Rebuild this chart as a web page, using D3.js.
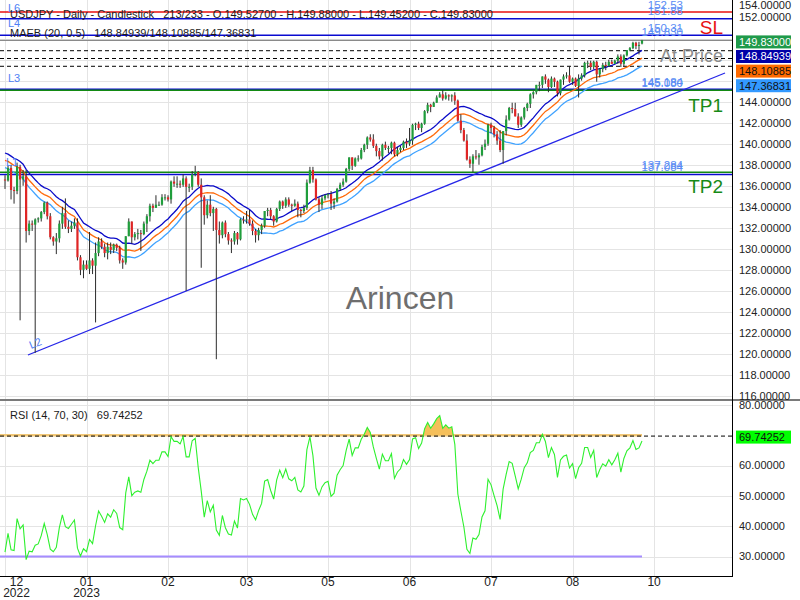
<!DOCTYPE html>
<html><head><meta charset="utf-8">
<script src="https://cdn.jsdelivr.net/npm/d3@7/dist/d3.min.js"></script>
<style>
body{margin:0;background:#fff;}
svg{display:block;font-family:"Liberation Sans",Arial,sans-serif;}
text{white-space:pre;}
</style>
</head><body>
<svg id="c" width="800" height="600"></svg>
<script>
// ---------------- DATA ----------------
// daily candles, 9 Dec 2022 .. 2 Oct 2023 (index = candle number)
const open = [
136.6,136.5,137.7,135.6,135.5,137.8,136.6,136.9,131.7,132.4,132.3,132.8,132.9,133.5,134.4,133.1,
131.1,130.7,131.0,132.4,133.4,132.1,131.9,132.2,132.5,129.2,128.0,128.5,128.1,128.9,128.4,129.6,130.7,130.2,129.6,130.2,129.9,130.4,
130.1,128.9,128.7,131.2,132.6,131.1,131.4,131.5,131.4,132.4,133.1,134.1,133.9,134.2,134.2,134.9,134.9,134.7,136.4,136.2,
136.2,136.1,136.7,135.9,135.9,137.1,137.3,136.1,134.9,133.2,134.2,133.4,133.8,131.8,131.3,132.5,131.4,130.8,130.7,131.5,130.9,132.8,132.7,
132.8,132.4,131.7,131.3,131.8,132.2,133.6,133.7,133.1,132.6,133.8,134.5,134.1,134.7,134.2,134.1,134.3,133.7,133.6,133.9,
136.3,137.5,136.6,134.7,134.2,134.8,135.1,135.2,134.3,134.5,135.7,136.1,136.4,137.6,138.7,137.9,138.6,138.6,139.4,139.9,140.6,140.4,139.8,
139.3,138.8,139.9,139.6,139.6,140.1,139.0,139.4,139.6,140.2,140.0,140.3,141.8,141.9,141.5,141.9,143.1,143.7,143.5,143.9,144.4,144.7,
144.3,144.6,144.5,144.6,144.1,142.2,141.3,140.3,138.5,138.1,138.8,138.7,138.9,139.7,140.0,141.8,141.5,140.9,140.3,139.4,141.2,
142.3,143.4,143.3,142.6,141.8,142.5,143.4,143.8,144.7,144.9,145.6,145.6,146.4,146.1,145.4,146.2,145.9,144.8,146.1,146.4,146.5,145.9,146.2,
145.5,146.2,146.5,147.7,147.7,147.3,147.8,146.6,147.1,147.5,147.4,147.8,147.6,147.9,148.3,147.6,148.4,148.9,149.1,149.6,149.3,
149.527];
const high = [
137.0,137.9,138.0,135.9,138.2,138.0,137.5,137.5,132.7,132.7,132.9,133.0,133.6,134.5,134.5,133.4,
131.2,131.5,132.7,134.0,134.8,132.7,132.6,132.9,132.9,129.4,128.9,128.9,131.6,129.1,130.6,131.1,131.0,130.5,130.6,130.6,130.5,130.5,
130.3,129.1,131.2,132.9,132.6,131.6,131.9,131.8,132.6,133.3,134.3,134.3,135.1,134.5,135.2,135.2,135.1,136.5,136.9,136.9,
136.5,137.1,136.9,136.2,137.4,137.9,137.4,136.7,135.1,134.6,135.1,134.0,133.9,132.6,132.6,132.7,131.6,131.0,131.7,131.6,132.9,133.1,133.6,
133.7,132.7,131.9,132.0,132.4,133.6,133.9,133.9,133.2,133.9,134.6,134.6,134.9,134.9,134.3,134.7,134.5,133.8,134.2,136.6,
137.8,137.8,136.7,134.9,135.1,135.2,135.3,135.5,134.8,135.8,136.3,136.7,137.7,138.7,138.7,138.7,138.9,139.6,140.0,140.7,140.9,140.9,140.0,
139.6,140.0,140.2,139.8,140.2,140.2,139.7,139.8,140.3,140.5,141.5,141.9,142.0,142.1,142.0,143.2,143.9,143.8,144.0,144.6,144.9,145.1,
144.9,144.7,144.7,144.9,144.2,142.8,141.5,140.9,138.8,139.0,139.4,139.1,139.9,140.4,141.9,142.0,141.7,141.2,141.3,141.2,142.7,
143.5,143.9,143.9,142.9,142.6,143.5,143.9,144.8,145.0,145.6,145.9,146.4,146.6,146.2,146.4,146.3,146.0,146.1,146.6,146.8,147.4,146.3,146.3,
146.6,146.7,147.8,147.9,147.9,147.9,147.9,147.2,147.7,147.8,148.0,148.0,148.0,148.5,148.5,148.5,148.9,149.2,149.7,149.7,149.7,
149.88];
const low = [
135.7,136.4,134.7,134.3,135.2,123.2,136.0,130.6,131.3,131.7,120.1,132.5,132.6,133.3,132.8,130.9,
130.3,129.5,130.6,131.9,131.9,131.5,131.6,131.9,128.9,127.5,127.2,128.0,127.6,127.6,123.0,129.3,130.0,129.2,129.0,129.5,129.6,129.8,
128.6,128.1,128.5,131.2,130.5,130.8,130.9,129.8,131.3,131.6,132.6,133.5,133.9,134.1,134.1,134.6,134.5,134.3,135.9,135.8,
135.8,135.9,126.0,135.4,135.6,136.9,135.9,128.2,132.3,132.9,133.1,131.7,119.5,130.5,131.0,131.1,130.4,129.6,130.4,130.4,130.8,132.4,132.4,
132.2,131.3,130.6,130.8,131.4,132.0,133.1,132.8,132.2,132.5,133.6,133.8,133.9,134.0,133.6,134.0,133.0,133.0,133.4,133.7,
136.2,136.3,134.6,133.5,133.8,134.6,134.8,133.7,133.8,134.4,135.5,135.9,136.3,137.4,137.5,137.8,138.3,138.5,139.2,139.5,140.2,139.6,138.8,
138.5,138.4,139.4,139.1,139.0,138.8,138.8,139.2,139.4,139.6,139.8,139.9,141.3,141.3,141.1,141.8,142.9,143.0,143.5,143.9,144.4,144.1,
144.2,144.1,144.0,143.7,142.1,141.0,140.2,138.4,137.7,137.3,138.5,138.0,138.8,139.4,139.8,141.0,140.6,139.9,139.2,138.1,140.8,
142.2,142.9,142.6,141.5,141.6,142.3,143.1,143.4,144.3,144.7,145.0,145.3,145.7,144.9,145.3,145.4,144.5,144.6,145.6,146.2,145.8,145.6,145.4,
144.4,146.0,146.3,147.2,147.0,147.1,145.9,146.3,146.8,147.0,147.3,147.6,147.6,147.6,147.3,147.4,148.3,148.8,149.0,149.0,148.5,
149.452];
const close = [
136.5,137.7,135.6,135.5,137.8,136.6,136.9,131.7,132.4,132.3,132.8,132.9,133.5,134.4,133.1,131.1,
130.7,131.0,132.4,133.4,132.1,131.9,132.2,132.5,129.2,128.0,128.5,128.1,128.9,128.4,129.6,130.7,130.2,129.6,130.2,129.9,130.4,130.1,
128.9,128.7,131.2,132.6,131.1,131.4,131.5,131.4,132.4,133.1,134.1,133.9,134.2,134.2,134.9,134.9,134.7,136.4,136.2,136.2,
136.1,136.7,135.9,135.9,137.1,137.3,136.1,134.9,133.2,134.2,133.4,133.8,131.8,131.3,132.5,131.4,130.8,130.7,131.5,130.9,132.8,132.7,132.8,
132.4,131.7,131.3,131.8,132.2,133.6,133.7,133.1,132.6,133.8,134.5,134.1,134.7,134.2,134.1,134.3,133.7,133.6,133.9,136.3,
137.5,136.6,134.7,134.2,134.8,135.1,135.2,134.3,134.5,135.7,136.1,136.4,137.6,138.7,137.9,138.6,138.6,139.4,139.9,140.6,140.4,139.8,139.3,
138.8,139.9,139.6,139.6,140.1,139.0,139.4,139.6,140.2,140.0,140.3,141.8,141.9,141.5,141.9,143.1,143.7,143.5,143.9,144.4,144.7,144.3,
144.6,144.5,144.6,144.1,142.2,141.3,140.3,138.5,138.1,138.8,138.7,138.9,139.7,140.0,141.8,141.5,140.9,140.3,139.4,141.2,142.3,
143.4,143.3,142.6,141.8,142.5,143.4,143.8,144.7,144.9,145.6,145.6,146.4,146.1,145.4,146.2,145.9,144.8,146.1,146.4,146.5,145.9,146.2,145.5,
146.2,146.5,147.7,147.7,147.3,147.8,146.6,147.1,147.5,147.4,147.8,147.6,147.9,148.3,147.6,148.4,148.9,149.1,149.6,149.3,149.4,
149.83];
// sessions before the first visible candle (only feed the indicators' warm-up)
const priorClose = [148.7,148.2,147.9,148.3,146.6,146.6,145.6,146.4,141.0,138.8,139.9,139.3,139.5,140.2,140.4,
142.1,141.2,139.6,138.5,139.2,138.9,138.7,138.0,135.3,134.3,136.7,137.0,136.6,136.6];

// x-axis ticks (candle index) and their labels
const xTickIndex = [0, 27, 54, 80, 107, 134, 161, 188, 215];
const xTickMonth = ["12","01","02","03","05","06","07","08","10"];
const xTickYear  = ["2022","2023","","","","","","",""];

const priceTicks = [116,118,120,122,124,126,128,130,132,134,136,138,140,142,144,146,148,150,152,154];
const rsiTicks = [80,60,50,40,30,20];

// last indicator values
const lastPrice = 149.83;
const maebLast = [148.84939, 148.10885, 147.36831];   // upper / middle / lower
const rsiLast = 69.74252;
const maPeriod = 20, maPct = 0.5, rsiPeriod = 14, rsiHigh = 70, rsiLow = 30;

// horizontal levels
const levelPrice = [152.53, 151.88, 150.31, 145.184, 145.08, 137.284, 137.084];
const levelText  = ["152.53","151.88","150.31","145.184","145.080","137.284","137.084"];
const levelColor = ["#e81010","#0a0ad0","#0a0ad0","#0a0ad0","#138a13","#138a13","#0a0ad0"];
// trend line anchors: [candle index, price]
const trendIdx = [7.6, 238.5];
const trendPrice = [119.9, 146.73];

// ---------------- DRAW ----------------
const svg = d3.select("#c");
const axisX = 732;
const x = d3.scaleLinear().domain([0, 211]).range([5, 642]);
const yP = d3.scaleLinear().domain([152, 116]).range([17.6, 396]);
const yR = d3.scaleLinear().domain([80, 30]).range([405, 556.5]);

const defs = svg.append("defs");
defs.append("clipPath").attr("id","cpP").append("rect").attr("x",0).attr("y",0).attr("width",axisX).attr("height",400);
defs.append("clipPath").attr("id","cpR").append("rect").attr("x",0).attr("y",401).attr("width",axisX).attr("height",175);
defs.append("clipPath").attr("id","cpRH").append("rect").attr("x",0).attr("y",401).attr("width",axisX).attr("height",yR(rsiHigh)-401);
defs.append("clipPath").attr("id","cpAxP").append("rect").attr("x",axisX).attr("y",0).attr("width",68).attr("height",400);
defs.append("clipPath").attr("id","cpAxR").append("rect").attr("x",axisX).attr("y",401).attr("width",68).attr("height",175);

const grid = "#e4e4e4";
// vertical grid
svg.append("g").selectAll("line").data(xTickIndex).join("line")
  .attr("x1",d=>Math.round(x(d))+0.5).attr("x2",d=>Math.round(x(d))+0.5)
  .attr("y1",0).attr("y2",576).attr("stroke",grid);
// horizontal grid
const gP = svg.append("g").attr("clip-path","url(#cpP)");
gP.selectAll("line.g").data(priceTicks).join("line").attr("class","g")
  .attr("x1",0).attr("x2",axisX).attr("y1",d=>Math.round(yP(d))+0.5).attr("y2",d=>Math.round(yP(d))+0.5)
  .attr("stroke",grid);
const gR = svg.append("g").attr("clip-path","url(#cpR)");
gR.selectAll("line.g").data(rsiTicks).join("line").attr("class","g")
  .attr("x1",0).attr("x2",axisX).attr("y1",d=>Math.round(yR(d))+0.5).attr("y2",d=>Math.round(yR(d))+0.5)
  .attr("stroke",grid);

// watermark
svg.append("text").attr("x",400).attr("y",309).attr("text-anchor","middle")
  .attr("font-size",32).attr("fill","#6e6e6e").text("Arincen");

// indicators computed from the closes
const full = priorClose.concat(close);
const P = priorClose.length;
const ma = close.map((c,i)=>{ const j=i+P; return d3.mean(full.slice(j-maPeriod+1,j+1)); });
const up = ma.map(v=>v*(1+maPct/100)), lo = ma.map(v=>v*(1-maPct/100));
const rsiFull = []; let ag=0, al=0;
for(let k=1;k<full.length;k++){
  const ch = full[k]-full[k-1], g=Math.max(ch,0), l=Math.max(-ch,0);
  if(k<=rsiPeriod){ ag+=g/rsiPeriod; al+=l/rsiPeriod; }
  else { ag=(ag*(rsiPeriod-1)+g)/rsiPeriod; al=(al*(rsiPeriod-1)+l)/rsiPeriod; }
  if(k>=rsiPeriod) rsiFull[k] = al===0?100:100-100/(1+ag/al);
}
const rsi = close.map((c,i)=>rsiFull[i+P]);

// dashed MA level lines & current price line
gP.selectAll("line.d").data(maebLast).join("line").attr("class","d")
  .attr("x1",0).attr("x2",axisX).attr("y1",d=>yP(d)).attr("y2",d=>yP(d))
  .attr("stroke","#000").attr("stroke-dasharray","4,3");
gP.append("line").attr("x1",0).attr("x2",axisX).attr("y1",yP(lastPrice)).attr("y2",yP(lastPrice))
  .attr("stroke","#8a8a8a").attr("stroke-width",1.3);
// level lines
gP.selectAll("line.lv").data(levelPrice).join("line").attr("class","lv")
  .attr("x1",0).attr("x2",axisX).attr("y1",d=>yP(d)).attr("y2",d=>yP(d))
  .attr("stroke",(d,i)=>levelColor[i]).attr("stroke-width",1.5);
// trend line
gP.append("line").attr("x1",x(trendIdx[0])).attr("y1",yP(trendPrice[0]))
  .attr("x2",x(trendIdx[1])).attr("y2",yP(trendPrice[1]))
  .attr("stroke","#2626e8").attr("stroke-width",1.3);

// MA envelope lines
const line = arr => d3.line().x((d,i)=>x(i)).y(d=>yP(d))(arr);
gP.append("path").attr("d",line(lo)).attr("fill","none").attr("stroke","#3fa2ff").attr("stroke-width",1.3);
gP.append("path").attr("d",line(ma)).attr("fill","none").attr("stroke","#ff6a0a").attr("stroke-width",1.3);
gP.append("path").attr("d",line(up)).attr("fill","none").attr("stroke","#0a0ac8").attr("stroke-width",1.3);

// candles
const candles = close.map((c,i)=>({i,o:open[i],h:high[i],l:low[i],c}));
const gC = gP.append("g");
gC.selectAll("line").data(candles).join("line")
  .attr("x1",d=>x(d.i)).attr("x2",d=>x(d.i))
  .attr("y1",d=>yP(Math.max(d.h,d.o,d.c))).attr("y2",d=>yP(Math.min(d.l,d.o,d.c)))
  .attr("stroke","#2b2b2b").attr("stroke-width",1);
gC.selectAll("rect").data(candles).join("rect")
  .attr("x",d=>x(d.i)-1.1).attr("width",2.2)
  .attr("y",d=>yP(Math.max(d.o,d.c)))
  .attr("height",d=>Math.max(1,Math.abs(yP(d.o)-yP(d.c))))
  .attr("fill",d=>d.c>=d.o?"#1f9e3c":"#e02525");

// level value labels
const lblFont = "'Liberation Sans Narrow','Liberation Sans',Arial,sans-serif";
svg.append("g").selectAll("text").data(levelPrice).join("text")
  .attr("x",683).attr("y",d=>yP(d)-3.5).attr("text-anchor","end")
  .attr("font-family",lblFont).attr("font-size",11.5).attr("fill","#5a8cf5")
  .text((d,i)=>levelText[i]);
svg.append("text").attr("x",683).attr("y",yP(lastPrice)-4).attr("text-anchor","end")
  .attr("font-family",lblFont).attr("font-size",11.5).attr("fill","#5a8cf5").text(lastPrice.toFixed(3));

// line names
const lc = "#4f7ff5";
[["L6",8,11.7],["L4",8,27.3],["L3",8,81.7],["L1",6,166]].forEach(t=>
  svg.append("text").attr("x",t[1]).attr("y",t[2]).attr("font-size",11).attr("fill",lc).text(t[0]));
svg.append("text").attr("transform",`translate(31,349) rotate(-22)`).attr("font-size",11).attr("fill",lc).text("L2");

// big labels
svg.append("text").attr("x",723).attr("y",34).attr("text-anchor","end").attr("font-size",19).attr("fill","#e81010").text("SL");
svg.append("text").attr("x",723).attr("y",62).attr("text-anchor","end").attr("font-size",18).attr("fill","#8c8c8c").text("At Price");
svg.append("text").attr("x",723).attr("y",112).attr("text-anchor","end").attr("font-size",19).attr("fill","#168a16").text("TP1");
svg.append("text").attr("x",723).attr("y",193).attr("text-anchor","end").attr("font-size",19).attr("fill","#168a16").text("TP2");

// headers
svg.append("text").attr("x",10).attr("y",18).attr("font-size",11).attr("fill","#1a1a1a")
  .text("USDJPY - Daily - Candlestick   213/233 - O.149.52700 - H.149.88000 - L.149.45200 - C.149.83000");
svg.append("text").attr("x",10).attr("y",37).attr("font-size",11).attr("fill","#1a1a1a")
  .text(`MAEB (${maPeriod}, ${maPct})   ${maebLast.map(v=>v.toFixed(5)).join("/")}`);
svg.append("text").attr("x",10).attr("y",419).attr("font-size",11).attr("fill","#1a1a1a")
  .text(`RSI (${rsiPeriod}, ${rsiHigh}, ${rsiLow})   ${rsiLast.toFixed(5)}`);

// RSI pane
gR.append("line").attr("x1",0).attr("x2",x(211)).attr("y1",yR(rsiHigh)).attr("y2",yR(rsiHigh))
  .attr("stroke","#f2c878").attr("stroke-width",2.5);
gR.append("line").attr("x1",0).attr("x2",x(211)).attr("y1",yR(rsiLow)).attr("y2",yR(rsiLow))
  .attr("stroke","#a58cff").attr("stroke-width",2);
gR.append("path").attr("clip-path","url(#cpRH)")
  .attr("d",d3.area().x((d,i)=>x(i)).y0(yR(rsiHigh)).y1(d=>yR(d))(rsi))
  .attr("fill","#f5bf5a");
gR.append("line").attr("x1",0).attr("x2",axisX).attr("y1",yR(rsiLast)).attr("y2",yR(rsiLast))
  .attr("stroke","#000").attr("stroke-dasharray","4,3");
gR.append("path").attr("d",d3.line().x((d,i)=>x(i)).y(d=>yR(d))(rsi))
  .attr("fill","none").attr("stroke","#2ef02e").attr("stroke-width",1.1);

// frame lines
svg.append("line").attr("x1",0).attr("x2",800).attr("y1",400).attr("y2",400).attr("stroke","#7a7a7a").attr("stroke-width",2);
svg.append("line").attr("x1",axisX+0.5).attr("x2",axisX+0.5).attr("y1",0).attr("y2",576).attr("stroke","#000");
svg.append("line").attr("x1",0).attr("x2",axisX+1).attr("y1",576.5).attr("y2",576.5).attr("stroke","#000");

// badges (price pane stacked so they do not overlap)
const badgeVals = [lastPrice].concat(maebLast);
const badgeFill = ["#1f9a4a","#0000a8","#ff6a00","#3399ff"];
const badgeText = ["#fff","#fff","#111","#111"];
let prev = -100; const badgeY = badgeVals.map(v=>{ let yy=Math.max(yP(v)+1.5, prev+14.6); prev=yy; return yy; });

// right axis labels (hidden where a badge sits)
const visTicks = priceTicks.filter(t=>badgeY.every(b=>Math.abs(Math.max(yP(t),5)-b)>12));
svg.append("g").attr("clip-path","url(#cpAxP)").selectAll("text").data(visTicks).join("text")
  .attr("x",739).attr("y",d=>Math.max(yP(d),5)).attr("dy","0.35em")
  .attr("font-size",11).attr("fill","#222").text(d=>d.toFixed(5));
svg.append("g").attr("clip-path","url(#cpAxR)").selectAll("text").data(rsiTicks).join("text")
  .attr("x",739).attr("y",d=>Math.min(yR(d),580)).attr("dy","0.35em")
  .attr("font-size",11).attr("fill","#222").text(d=>d.toFixed(5));

const gb = svg.append("g");
badgeVals.forEach((v,i)=>{
  gb.append("rect").attr("x",736).attr("y",badgeY[i]-6.5).attr("width",55).attr("height",13).attr("fill",badgeFill[i]);
  gb.append("text").attr("x",739).attr("y",badgeY[i]).attr("dy","0.35em").attr("font-size",11)
    .attr("fill",badgeText[i]).text(v.toFixed(5));
});
gb.append("rect").attr("x",736).attr("y",yR(rsiLast)+1-6.5).attr("width",55).attr("height",13).attr("fill","#00ff00");
gb.append("text").attr("x",739).attr("y",yR(rsiLast)+1).attr("dy","0.35em").attr("font-size",11)
  .attr("fill","#111").text(rsiLast.toFixed(5));

// x-axis labels
const xf = "'Liberation Sans Narrow','Liberation Sans',Arial,sans-serif";
const gx = svg.append("g").attr("font-family",xf).attr("font-size",12).attr("fill","#222").attr("text-anchor","middle");
xTickIndex.forEach((t,i)=>{
  const cx = Math.max(x(t), 16.5);
  gx.append("text").attr("x",cx).attr("y",586).text(xTickMonth[i]);
  if(xTickYear[i]) gx.append("text").attr("x",cx).attr("y",597).text(xTickYear[i]);
});
</script>
</body></html>
